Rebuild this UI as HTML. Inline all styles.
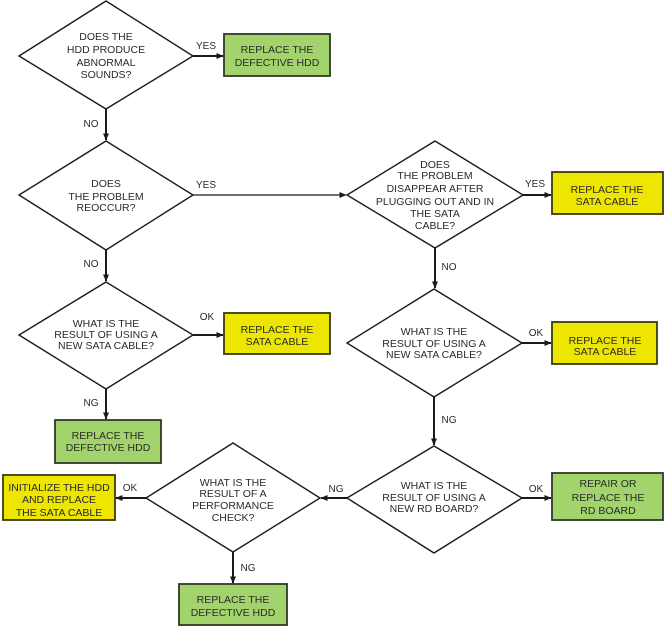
<!DOCTYPE html>
<html>
<head>
<meta charset="utf-8">
<style>
  html,body{margin:0;padding:0;background:#fff;}
  svg{display:block;}
  text{font-family:"Liberation Sans",Arial,sans-serif;font-size:10.5px;fill:#2a2a2a;text-anchor:middle;}
  .lbl{font-size:10px;}
  .d{fill:#fff;stroke:#1a1a1a;stroke-width:1.4;}
  .g{fill:#a2d36c;stroke:#2e3a22;stroke-width:1.8;}
  .y{fill:#ede600;stroke:#3a3a10;stroke-width:1.8;}
  .a{stroke:#1a1a1a;stroke-width:2;fill:none;}
  .t{stroke:#1a1a1a;stroke-width:1.2;fill:none;}
</style>
</head>
<body>
<svg width="665" height="627" viewBox="0 0 665 627" xmlns="http://www.w3.org/2000/svg">
<defs>
  <marker id="ah" markerWidth="7" markerHeight="6" refX="6.5" refY="3" orient="auto" markerUnits="userSpaceOnUse">
    <path d="M0,0 L7,3 L0,6 Z" fill="#1a1a1a"/>
  </marker>
</defs>

<!-- D1 -->
<polygon class="d" points="106,1 193,56 106,109 19,56"/>
<text x="106" y="40">DOES THE</text>
<text x="106" y="53">HDD PRODUCE</text>
<text x="106" y="66">ABNORMAL</text>
<text x="106" y="78">SOUNDS?</text>
<line class="a" x1="193" y1="56" x2="223" y2="56" marker-end="url(#ah)"/>
<text class="lbl" x="206" y="49">YES</text>
<rect class="g" x="224" y="34" width="106" height="42"/>
<text x="277" y="53">REPLACE THE</text>
<text x="277" y="66">DEFECTIVE HDD</text>

<text class="lbl" x="91" y="127">NO</text>
<line class="a" x1="106" y1="109" x2="106" y2="140" marker-end="url(#ah)"/>

<!-- D2 -->
<polygon class="d" points="106,141 193,195 106,250 19,195"/>
<text x="106" y="187">DOES</text>
<text x="106" y="200">THE PROBLEM</text>
<text x="106" y="211">REOCCUR?</text>
<text class="lbl" x="206" y="188">YES</text>
<line class="t" x1="193" y1="195" x2="346" y2="195" marker-end="url(#ah)"/>

<text class="lbl" x="91" y="267">NO</text>
<line class="a" x1="106" y1="250" x2="106" y2="281" marker-end="url(#ah)"/>

<!-- D3 -->
<polygon class="d" points="106,282 193,335 106,389 19,335"/>
<text x="106" y="327">WHAT IS THE</text>
<text x="106" y="338">RESULT OF USING A</text>
<text x="106" y="349">NEW SATA CABLE?</text>
<text class="lbl" x="207" y="320">OK</text>
<line class="a" x1="193" y1="335" x2="223" y2="335" marker-end="url(#ah)"/>
<rect class="y" x="224" y="313" width="106" height="41"/>
<text x="277" y="333">REPLACE THE</text>
<text x="277" y="345">SATA CABLE</text>

<text class="lbl" x="91" y="406">NG</text>
<line class="a" x1="106" y1="389" x2="106" y2="419" marker-end="url(#ah)"/>
<rect class="g" x="55" y="420" width="106" height="43"/>
<text x="108" y="439">REPLACE THE</text>
<text x="108" y="451">DEFECTIVE HDD</text>

<!-- D4 -->
<polygon class="d" points="435,141 523,195 435,248 347,195"/>
<text x="435" y="168">DOES</text>
<text x="435" y="179">THE PROBLEM</text>
<text x="435" y="192">DISAPPEAR AFTER</text>
<text x="435" y="205">PLUGGING OUT AND IN</text>
<text x="435" y="217">THE SATA</text>
<text x="435" y="229">CABLE?</text>
<text class="lbl" x="535" y="187">YES</text>
<line class="a" x1="523" y1="195" x2="551" y2="195" marker-end="url(#ah)"/>
<rect class="y" x="552" y="172" width="111" height="42"/>
<text x="607" y="193">REPLACE THE</text>
<text x="607" y="205">SATA CABLE</text>

<text class="lbl" x="449" y="270">NO</text>
<line class="a" x1="435" y1="248" x2="435" y2="288" marker-end="url(#ah)"/>

<!-- D5 -->
<polygon class="d" points="434,289 522,343 434,397 347,343"/>
<text x="434" y="335">WHAT IS THE</text>
<text x="434" y="347">RESULT OF USING A</text>
<text x="434" y="358">NEW SATA CABLE?</text>
<text class="lbl" x="536" y="336">OK</text>
<line class="a" x1="522" y1="343" x2="551" y2="343" marker-end="url(#ah)"/>
<rect class="y" x="552" y="322" width="105" height="42"/>
<text x="605" y="344">REPLACE THE</text>
<text x="605" y="355">SATA CABLE</text>

<text class="lbl" x="449" y="423">NG</text>
<line class="a" x1="434" y1="397" x2="434" y2="445" marker-end="url(#ah)"/>

<!-- D6 -->
<polygon class="d" points="434,446 522,498 434,553 347,498"/>
<text x="434" y="489">WHAT IS THE</text>
<text x="434" y="501">RESULT OF USING A</text>
<text x="434" y="512">NEW RD BOARD?</text>
<text class="lbl" x="536" y="492">OK</text>
<line class="a" x1="522" y1="498" x2="551" y2="498" marker-end="url(#ah)"/>
<rect class="g" x="552" y="473" width="111" height="47"/>
<text x="608" y="487">REPAIR OR</text>
<text x="608" y="501">REPLACE THE</text>
<text x="608" y="514">RD BOARD</text>

<text class="lbl" x="336" y="492">NG</text>
<line class="a" x1="347" y1="498" x2="321" y2="498" marker-end="url(#ah)"/>

<!-- D7 -->
<polygon class="d" points="233,443 320,498 233,552 146,498"/>
<text x="233" y="486">WHAT IS THE</text>
<text x="233" y="497">RESULT OF A</text>
<text x="233" y="509">PERFORMANCE</text>
<text x="233" y="521">CHECK?</text>
<text class="lbl" x="130" y="491">OK</text>
<line class="a" x1="146" y1="498" x2="116" y2="498" marker-end="url(#ah)"/>
<rect class="y" x="3" y="475" width="112" height="45"/>
<text x="59" y="491">INITIALIZE THE HDD</text>
<text x="59" y="503">AND REPLACE</text>
<text x="59" y="516">THE SATA CABLE</text>

<text class="lbl" x="248" y="571">NG</text>
<line class="a" x1="233" y1="552" x2="233" y2="583" marker-end="url(#ah)"/>
<rect class="g" x="179" y="584" width="108" height="41"/>
<text x="233" y="603">REPLACE THE</text>
<text x="233" y="616">DEFECTIVE HDD</text>
</svg>
</body>
</html>
